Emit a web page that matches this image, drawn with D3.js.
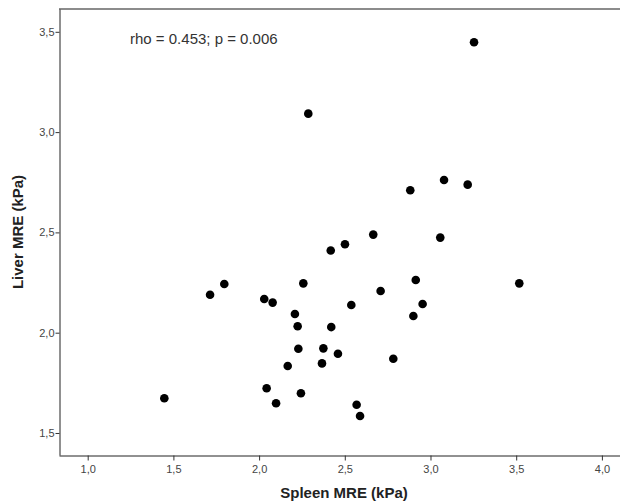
<!DOCTYPE html>
<html>
<head>
<meta charset="utf-8">
<script src="https://cdn.jsdelivr.net/npm/d3@7"></script>
<style>
  body { margin: 0; background: #fff; }
  svg { display: block; font-family: "Liberation Sans", Arial, sans-serif; }
</style>
</head>
<body>
<div id="canvas"></div>
<script>
// spleen / liver MRE values (kPa)
let spleen = [3.254, 2.287, 2.882, 3.079, 3.217, 2.666, 2.501, 2.418, 3.057, 1.797,
              1.714, 2.258, 2.030, 2.079, 2.209, 2.225, 2.229, 2.167, 2.044, 2.244,
              2.099, 1.447, 2.914, 3.518, 2.709, 2.538, 2.954, 2.900, 2.421, 2.375,
              2.460, 2.367, 2.783, 2.569, 2.589];
let liver = [3.448, 3.092, 2.710, 2.761, 2.738, 2.489, 2.441, 2.410, 2.474, 2.243,
             2.189, 2.246, 2.168, 2.150, 2.093, 2.032, 1.920, 1.834, 1.723, 1.698,
             1.648, 1.673, 2.263, 2.246, 2.208, 2.138, 2.143, 2.083, 2.028, 1.922,
             1.895, 1.847, 1.870, 1.641, 1.585];

let xTicks = [1.0, 1.5, 2.0, 2.5, 3.0, 3.5, 4.0];
let yTicks = [1.5, 2.0, 2.5, 3.0, 3.5];
let xTickLabels = ["1,0", "1,5", "2,0", "2,5", "3,0", "3,5", "4,0"];
let yTickLabels = ["1,5", "2,0", "2,5", "3,0", "3,5"];

let points = spleen.map((s, i) => ({x: s, y: liver[i]}));

let width = 620, height = 503;
let m = {left: 59, top: 9, right: 620, bottom: 455};

let svg = d3.select("#canvas")
  .append("svg")
    .attr("width", width)
    .attr("height", height);

let x = d3.scaleLinear().domain([0.8326, 4.1056]).range([m.left, m.right]);
let y = d3.scaleLinear().domain([1.3903, 3.6137]).range([m.bottom, m.top]);

// top frame line (grey)
svg.append("line")
  .attr("x1", m.left).attr("x2", m.right)
  .attr("y1", m.top).attr("y2", m.top)
  .attr("stroke", "#8c8c8c")
  .attr("stroke-width", 2);

let xAxis = svg.append("g")
  .attr("transform", `translate(0,${m.bottom + 0.5})`)
  .call(d3.axisBottom(x)
    .tickValues(xTicks)
    .tickFormat((d, i) => xTickLabels[i])
    .tickSize(5)
    .tickSizeOuter(0));

let yAxis = svg.append("g")
  .attr("transform", `translate(${m.left + 0.5},0)`)
  .call(d3.axisLeft(y)
    .tickValues(yTicks)
    .tickFormat((d, i) => yTickLabels[i])
    .tickSize(4)
    .tickSizeOuter(0));

[xAxis, yAxis].forEach(g => {
  g.select(".domain").attr("stroke", "#222");
  g.selectAll(".tick line").attr("stroke", "#333");
  g.selectAll(".tick text")
    .attr("fill", "#444")
    .style("font-size", "11px")
    .style("font-family", "'Liberation Sans', Arial, sans-serif");
});
xAxis.selectAll(".tick text").attr("dy", "0.95em").attr("y", 7);
yAxis.selectAll(".tick text").attr("x", -5);

svg.selectAll("circle")
  .data(points)
  .enter()
  .append("circle")
    .attr("cx", d => x(d.x))
    .attr("cy", d => y(d.y))
    .attr("r", 4.3)
    .style("fill", "#000");

svg.append("text")
  .attr("x", 130)
  .attr("y", 44)
  .attr("fill", "#333")
  .style("font-size", "15px")
  .text("rho = 0.453; p = 0.006");

svg.append("text")
  .attr("x", 344)
  .attr("y", 498)
  .attr("text-anchor", "middle")
  .attr("fill", "#222")
  .style("font-size", "15px")
  .style("font-weight", "bold")
  .text("Spleen MRE (kPa)");

svg.append("text")
  .attr("transform", `translate(23,232) rotate(-90)`)
  .attr("text-anchor", "middle")
  .attr("fill", "#222")
  .style("font-size", "15px")
  .style("font-weight", "bold")
  .text("Liver MRE (kPa)");
</script>
</body>
</html>
